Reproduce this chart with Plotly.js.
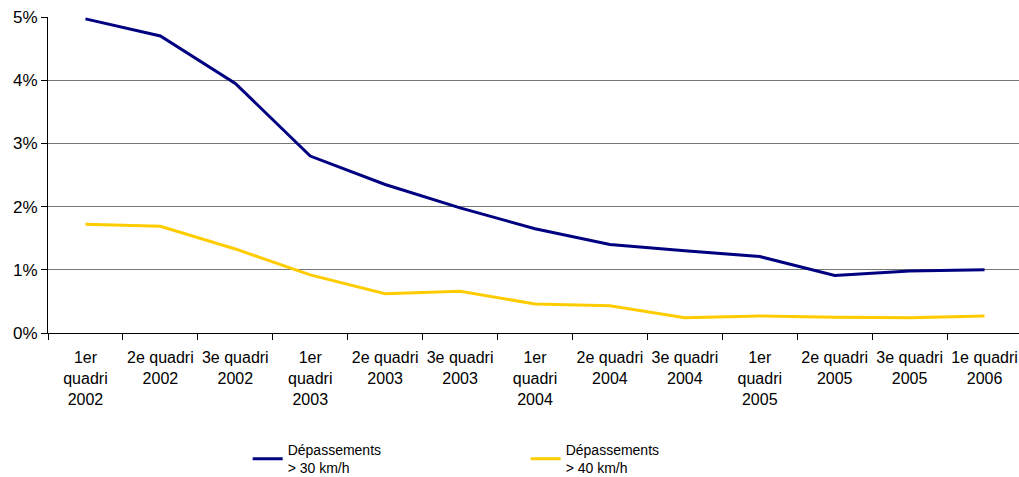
<!DOCTYPE html>
<html><head><meta charset="utf-8">
<script src="https://cdn.plot.ly/plotly-3.0.1.min.js"></script>
<style>html,body{margin:0;padding:0;overflow:hidden;background:#fff}</style>
</head><body>
<div id="chart" style="width:1022px;height:477px"></div>
<script>
var categories = ["1er<br>quadri<br>2002","2e quadri<br>2002","3e quadri<br>2002","1er<br>quadri<br>2003","2e quadri<br>2003","3e quadri<br>2003","1er<br>quadri<br>2004","2e quadri<br>2004","3e quadri<br>2004","1er<br>quadri<br>2005","2e quadri<br>2005","3e quadri<br>2005","1e quadri<br>2006"];
var over30 = [4.97,4.70,3.95,2.80,2.35,1.98,1.65,1.40,1.30,1.21,0.91,0.98,1.00];
var over40 = [1.72,1.69,1.33,0.92,0.62,0.66,0.46,0.43,0.24,0.27,0.25,0.24,0.27];
var seriesNames = ["Dépassements<br>> 30 km/h","Dépassements<br>> 40 km/h"];
var yTickVals = [0,1,2,3,4,5];
var yTickText = ["0%","1%","2%","3%","4%","5%"];

var traces = [
  {x: categories, y: over30, name: seriesNames[0], type: "scatter", mode: "lines", line: {color: "#000080", width: 3}},
  {x: categories, y: over40, name: seriesNames[1], type: "scatter", mode: "lines", line: {color: "#FFCC00", width: 3}}
];
var layout = {
  width: 1022, height: 477,
  margin: {l: 48, r: 0, t: 17, b: 144, autoexpand: false},
  paper_bgcolor: "#fff", plot_bgcolor: "#fff",
  font: {family: "Liberation Sans, Arial, sans-serif", color: "#000", size: 16},
  showlegend: true,
  legend: {orientation: "h", x: 0.205, xanchor: "left", y: -0.32, yanchor: "top",
           font: {size: 14}, entrywidth: 233, entrywidthmode: "pixels", tracegroupgap: 0},
  xaxis: {type: "category", range: [-0.5, 12.5], tickson: "boundaries", ticks: "outside", ticklen: 6, tickcolor: "#000",
          showline: true, linecolor: "#000", linewidth: 1, showgrid: false, zeroline: false,
          tickfont: {size: 16}, fixedrange: true, tickangle: 0, automargin: false, ticklabelstandoff: 10},
  yaxis: {range: [0, 5], tickvals: yTickVals, ticktext: yTickText, ticks: "outside", ticklen: 6,
          tickcolor: "#000", showline: true, linecolor: "#000", linewidth: 1, automargin: false,
          showgrid: true, gridcolor: "#777", gridwidth: 1, zeroline: false, tickfont: {size: 17}}
};
Plotly.newPlot("chart", traces, layout, {displayModeBar: false, staticPlot: true});
</script>
</body></html>
